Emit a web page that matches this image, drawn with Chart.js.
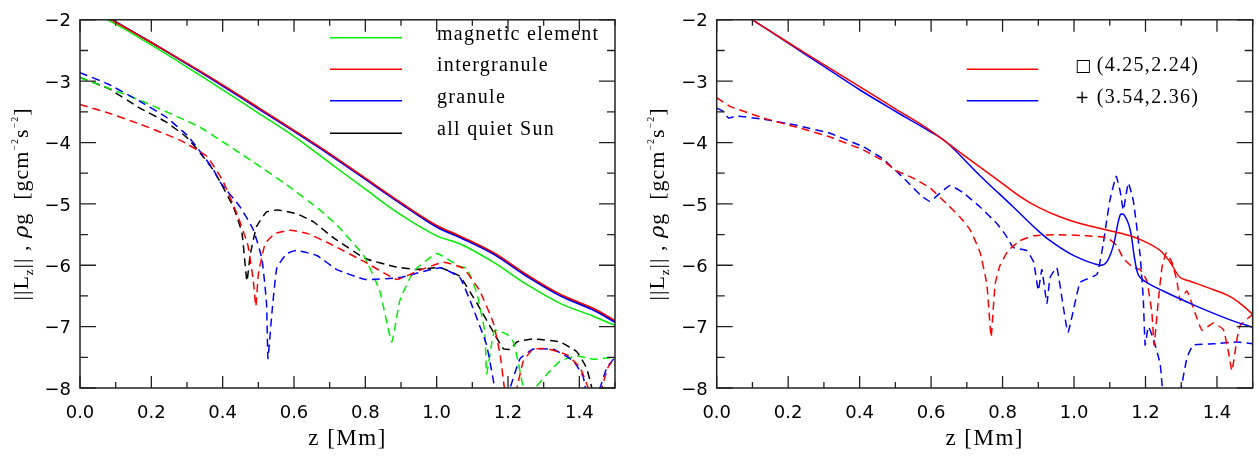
<!DOCTYPE html>
<html>
<head>
<meta charset="utf-8">
<script src="https://cdn.jsdelivr.net/npm/chart.js@4.4.0/dist/chart.umd.min.js"></script>
<style>
  html, body { margin: 0; padding: 0; background: #fff; }
  #wrap { position: relative; width: 1259px; height: 456px; }
  canvas { position: absolute; top: 0; }
  #left { left: 0; }
  #right { left: 630px; }
</style>
</head>
<body>
<div id="wrap">
  <canvas id="left" width="630" height="456"></canvas>
  <canvas id="right" width="629" height="456"></canvas>
</div>
<script>
// ---- axis ticks ----
const xTickVals = [0, 0.2, 0.4, 0.6, 0.8, 1.0, 1.2, 1.4];
const xMinorVals = [0.1, 0.3, 0.5, 0.7, 0.9, 1.1, 1.3, 1.5];
const yTickVals = [-8, -7, -6, -5, -4, -3, -2];
const yMinorVals = [-7.5, -6.5, -5.5, -4.5, -3.5, -2.5];

// ---- left panel: solid curves (||Lz||) ----
const zSolidL = [0, 0.1, 0.2, 0.3, 0.4, 0.5, 0.6, 0.7, 0.8, 0.9, 1.0, 1.065, 1.159, 1.252, 1.346, 1.439, 1.5];
const magSolid   = [-1.78, -2.07, -2.41, -2.77, -3.14, -3.52, -3.90, -4.33, -4.76, -5.18, -5.52, -5.65, -5.95, -6.31, -6.62, -6.83, -6.98];
const interSolid = [-1.72, -2.04, -2.37, -2.71, -3.06, -3.43, -3.80, -4.18, -4.58, -4.98, -5.35, -5.52, -5.79, -6.15, -6.47, -6.70, -6.90];
const granSolid  = [-1.69, -2.03, -2.37, -2.72, -3.08, -3.45, -3.82, -4.20, -4.60, -5.00, -5.38, -5.55, -5.82, -6.18, -6.50, -6.73, -6.93];
const quietSolid = [-1.70, -2.035, -2.37, -2.715, -3.07, -3.44, -3.81, -4.19, -4.59, -4.99, -5.37, -5.54, -5.81, -6.17, -6.49, -6.72, -6.92];

// ---- left panel: dashed curves (rho g) ----
const zMagDash = [0, 0.168, 0.336, 0.486, 0.58, 0.673, 0.724, 0.795, 0.84, 0.874, 0.897, 0.935, 1.0, 1.065, 1.085, 1.113, 1.135, 1.14, 1.155, 1.163, 1.196, 1.215, 1.228, 1.243, 1.26, 1.277, 1.31, 1.346, 1.393, 1.439, 1.5];
const magDash  = [-2.94, -3.31, -3.75, -4.32, -4.69, -5.10, -5.37, -5.84, -6.41, -7.25, -6.57, -6.10, -5.81, -6.02, -6.05, -6.46, -7.09, -7.77, -7.25, -7.06, -7.12, -7.25, -7.56, -8.0, -8.3, -8.0, -7.77, -7.56, -7.48, -7.53, -7.50];

const zInterDash = [0, 0.08, 0.168, 0.28, 0.355, 0.40, 0.44, 0.471, 0.486, 0.493, 0.5, 0.519, 0.547, 0.589, 0.636, 0.701, 0.80, 0.888, 0.944, 1.02, 1.075, 1.12, 1.159, 1.178, 1.19, 1.205, 1.225, 1.243, 1.27, 1.31, 1.365, 1.402, 1.425, 1.445, 1.463, 1.48, 1.5];
const interDash  = [-3.38, -3.52, -3.70, -3.96, -4.22, -4.62, -5.16, -5.68, -6.26, -6.67, -6.15, -5.65, -5.48, -5.43, -5.48, -5.65, -5.95, -6.23, -6.10, -5.95, -6.05, -6.41, -6.94, -7.46, -8.0, -8.4, -8.0, -7.56, -7.37, -7.36, -7.46, -7.67, -8.0, -8.4, -8.0, -7.67, -7.50];

const zGranDash = [0, 0.08, 0.168, 0.24, 0.30, 0.336, 0.374, 0.392, 0.449, 0.486, 0.51, 0.523, 0.527, 0.538, 0.552, 0.58, 0.607, 0.664, 0.72, 0.80, 0.897, 1.01, 1.065, 1.10, 1.14, 1.163, 1.185, 1.206, 1.234, 1.27, 1.327, 1.383, 1.411, 1.43, 1.458, 1.477, 1.5];
const granDash  = [-2.86, -3.05, -3.33, -3.58, -3.88, -4.14, -4.44, -4.64, -5.05, -5.42, -5.89, -6.62, -7.52, -6.78, -6.04, -5.81, -5.76, -5.84, -6.07, -6.23, -6.20, -6.04, -6.20, -6.67, -7.30, -8.0, -8.5, -8.0, -7.52, -7.37, -7.37, -7.56, -7.82, -8.4, -8.0, -7.67, -7.50];

const zQuietDash = [0, 0.08, 0.168, 0.24, 0.30, 0.336, 0.374, 0.392, 0.43, 0.454, 0.468, 0.477, 0.495, 0.523, 0.555, 0.607, 0.654, 0.71, 0.80, 0.88, 0.944, 1.01, 1.065, 1.113, 1.159, 1.187, 1.206, 1.225, 1.27, 1.346, 1.393, 1.42, 1.435, 1.45, 1.5];
const quietDash  = [-2.94, -3.12, -3.44, -3.66, -3.92, -4.16, -4.45, -4.63, -5.05, -5.47, -6.26, -5.84, -5.37, -5.13, -5.10, -5.16, -5.29, -5.55, -5.89, -6.02, -6.07, -6.04, -6.18, -6.62, -7.09, -7.36, -7.37, -7.25, -7.20, -7.25, -7.41, -7.67, -8.0, -8.4, -8.4];

// ---- right panel ----
const zSqSolid = [0, 0.1, 0.2, 0.3, 0.4, 0.5, 0.597, 0.69, 0.784, 0.849, 0.905, 0.96, 1.017, 1.11, 1.157, 1.204, 1.241, 1.269, 1.297, 1.325, 1.372, 1.437, 1.475, 1.5];
const sqSolid  = [-1.63, -2.0, -2.37, -2.73, -3.09, -3.45, -3.80, -4.20, -4.60, -4.88, -5.07, -5.21, -5.32, -5.45, -5.52, -5.63, -5.76, -5.95, -6.20, -6.26, -6.36, -6.51, -6.67, -6.80];

const zPlusSolid = [0, 0.1, 0.2, 0.3, 0.4, 0.5, 0.597, 0.644, 0.737, 0.83, 0.896, 0.933, 0.998, 1.073, 1.092, 1.11, 1.129, 1.14, 1.157, 1.171, 1.185, 1.25, 1.344, 1.437, 1.5];
const plusSolid  = [-1.63, -2.0, -2.38, -2.76, -3.14, -3.49, -3.82, -4.0, -4.54, -5.05, -5.42, -5.60, -5.84, -6.0, -5.94, -5.68, -5.18, -5.18, -5.42, -5.94, -6.20, -6.42, -6.67, -6.89, -7.01];

const zSqDash = [0, 0.037, 0.13, 0.224, 0.317, 0.41, 0.466, 0.503, 0.55, 0.597, 0.644, 0.68, 0.709, 0.737, 0.756, 0.768, 0.779, 0.793, 0.816, 0.849, 0.887, 0.95, 1.036, 1.092, 1.12, 1.138, 1.166, 1.185, 1.204, 1.218, 1.224, 1.236, 1.246, 1.258, 1.274, 1.288, 1.297, 1.316, 1.339, 1.358, 1.39, 1.418, 1.432, 1.442, 1.456, 1.465, 1.5];
const sqDash  = [-3.27, -3.41, -3.60, -3.75, -3.91, -4.12, -4.30, -4.46, -4.58, -4.74, -5.0, -5.21, -5.42, -5.79, -6.31, -7.17, -6.31, -6.0, -5.76, -5.60, -5.52, -5.50, -5.52, -5.55, -5.68, -5.89, -6.04, -6.07, -6.26, -6.78, -7.30, -6.57, -6.04, -5.80, -5.95, -6.26, -6.57, -6.42, -6.78, -7.06, -6.94, -7.05, -7.41, -7.72, -7.20, -6.98, -6.80];

const zPlusDash = [0, 0.018, 0.033, 0.056, 0.13, 0.224, 0.317, 0.41, 0.466, 0.532, 0.569, 0.597, 0.62, 0.653, 0.69, 0.737, 0.784, 0.81, 0.83, 0.868, 0.887, 0.9, 0.91, 0.924, 0.933, 0.952, 0.983, 1.017, 1.064, 1.082, 1.1, 1.118, 1.129, 1.138, 1.152, 1.166, 1.185, 1.194, 1.199, 1.208, 1.222, 1.241, 1.255, 1.285, 1.316, 1.334, 1.39, 1.456, 1.5];
const plusDash  = [-3.44, -3.49, -3.60, -3.57, -3.62, -3.72, -3.85, -4.07, -4.27, -4.63, -4.85, -4.96, -4.85, -4.70, -4.82, -5.05, -5.32, -5.52, -5.71, -5.76, -5.95, -6.41, -6.07, -6.62, -6.20, -6.04, -7.09, -6.28, -6.15, -5.64, -4.95, -4.55, -4.79, -5.10, -4.66, -4.95, -5.84, -6.57, -7.30, -7.00, -7.20, -7.61, -8.4, -8.4, -7.51, -7.30, -7.28, -7.25, -7.28];

const GREEN = '#00ee00', RED = '#ff0000', BLUE = '#0000ff', BLACK = '#000000';

function pts(zs, vs) { return zs.map((z, i) => ({ x: z, y: vs[i] })); }

function solid(label, color, zs, vs, row) {
  return { label: label, data: pts(zs, vs), borderColor: color, borderWidth: 1.5,
           pointRadius: 0, tension: 0.35, fill: false, legendRow: row };
}
function dashed(color, zs, vs) {
  return { label: '', data: pts(zs, vs), borderColor: color, borderWidth: 1.5, borderDash: [8, 5],
           pointRadius: 0, tension: 0.12, fill: false };
}

// draws the box with inward major / minor ticks on all four sides
const frameTicks = {
  id: 'frameTicks',
  afterDraw(chart) {
    const ctx = chart.ctx, a = chart.chartArea;
    const xs = chart.scales.x, ys = chart.scales.y;
    ctx.save();
    ctx.strokeStyle = '#222';
    ctx.lineWidth = 1.5;
    ctx.strokeRect(a.left, a.top, a.right - a.left, a.bottom - a.top);
    ctx.lineWidth = 1.3;
    ctx.beginPath();
    const xt = (v, len) => {
      const p = xs.getPixelForValue(v);
      ctx.moveTo(p, a.bottom); ctx.lineTo(p, a.bottom - len);
      ctx.moveTo(p, a.top); ctx.lineTo(p, a.top + len);
    };
    const yt = (v, len) => {
      const p = ys.getPixelForValue(v);
      ctx.moveTo(a.left, p); ctx.lineTo(a.left + len, p);
      ctx.moveTo(a.right, p); ctx.lineTo(a.right - len, p);
    };
    xTickVals.forEach(v => xt(v, 12));
    xMinorVals.forEach(v => xt(v, 6));
    yTickVals.forEach(v => yt(v, 16));
    yMinorVals.forEach(v => yt(v, 8));
    ctx.stroke();
    ctx.restore();
  }
};

// axis titles, the y one has sub- and superscripts
const axisTitles = {
  id: 'axisTitles',
  afterDraw(chart, args, opts) {
    const ctx = chart.ctx, a = chart.chartArea;
    ctx.save();
    ctx.fillStyle = '#000';
    ctx.font = '23px "Liberation Serif"';
    ctx.letterSpacing = '1.5px';
    ctx.textAlign = 'center';
    ctx.textBaseline = 'alphabetic';
    ctx.fillText('z [Mm]', (a.left + a.right) / 2, 445);

    const parts = [
      { t: '||L', f: '22px "Liberation Serif"', dy: 0 },
      { t: 'z', f: '13px "Liberation Serif"', dy: 5 },
      { t: '|| , ', f: '22px "Liberation Serif"', dy: 0 },
      { t: 'ρ', f: 'italic 21px "DejaVu Serif"', dy: 0 },
      { t: 'g  [gcm', f: '22px "Liberation Serif"', dy: 0 },
      { t: '−2', f: '10px "Liberation Serif"', dy: -10 },
      { t: 's', f: '22px "Liberation Serif"', dy: 0 },
      { t: '−2', f: '10px "Liberation Serif"', dy: -10 },
      { t: ']', f: '22px "Liberation Serif"', dy: 0 }
    ];
    ctx.letterSpacing = '1px';
    let total = 0;
    parts.forEach(p => { ctx.font = p.f; p.w = ctx.measureText(p.t).width; total += p.w; });
    ctx.translate(opts.yTitleX, (a.top + a.bottom) / 2);
    ctx.rotate(-Math.PI / 2);
    ctx.textAlign = 'left';
    let x = -total / 2;
    parts.forEach(p => { ctx.font = p.f; ctx.fillText(p.t, x, 8 + p.dy); x += p.w; });
    ctx.restore();
  }
};

// legend: short line sample and label for datasets that carry a legendRow
const lineLegend = {
  id: 'lineLegend',
  afterDraw(chart, args, opts) {
    const ctx = chart.ctx;
    ctx.save();
    chart.data.datasets.forEach(ds => {
      if (ds.legendRow === undefined) return;
      const y = opts.rows[ds.legendRow];
      ctx.strokeStyle = ds.borderColor;
      ctx.lineWidth = 1.5;
      ctx.beginPath();
      ctx.moveTo(opts.x0, y); ctx.lineTo(opts.x1, y);
      ctx.stroke();
      ctx.fillStyle = '#000';
      ctx.textBaseline = 'alphabetic';
      ctx.textAlign = 'left';
      if (ds.symbol) {
        ctx.font = '17px "DejaVu Sans"';
        ctx.letterSpacing = '0px';
        ctx.fillText(ds.symbol, opts.symX, y + 2);
      }
      ctx.font = '20px "Liberation Serif"';
      ctx.letterSpacing = '1.3px';
      ctx.fillText(ds.label, opts.textX, y + 2);
    });
    ctx.restore();
  }
};

function makeOptions(yWidth, padRight, yTitleX, legendOpts) {
  return {
    responsive: false,
    animation: false,
    layout: { padding: { top: 5, right: padRight, bottom: 0, left: 0 } },
    plugins: {
      legend: { display: false },
      tooltip: { enabled: false },
      axisTitles: { yTitleX: yTitleX },
      lineLegend: legendOpts
    },
    scales: {
      x: {
        type: 'linear', min: 0, max: 1.5,
        afterBuildTicks: s => { s.ticks = xTickVals.map(v => ({ value: v })); },
        afterFit: s => { s.height = 68; },
        grid: { display: false, drawTicks: false },
        border: { display: false },
        ticks: { padding: 15, color: '#000', maxRotation: 0, autoSkip: false,
                 font: { family: 'DejaVu Sans', size: 18 },
                 callback: v => v.toFixed(1) }
      },
      y: {
        type: 'linear', min: -8, max: -2,
        afterBuildTicks: s => { s.ticks = yTickVals.map(v => ({ value: v })); },
        afterFit: s => { s.width = yWidth; },
        grid: { display: false, drawTicks: false },
        border: { display: false },
        ticks: { padding: 9, color: '#000', labelOffset: 2,
                 font: { family: 'DejaVu Sans', size: 18 },
                 callback: v => (v < 0 ? '\u2212' : '') + Math.abs(v) }
      }
    }
  };
}

// lower dataset index is drawn on top
new Chart(document.getElementById('left'), {
  type: 'line',
  data: {
    datasets: [
      solid('intergranule', RED, zSolidL, interSolid, 1),
      solid('granule', BLUE, zSolidL, granSolid, 2),
      solid('all quiet Sun', BLACK, zSolidL, quietSolid, 3),
      solid('magnetic element', GREEN, zSolidL, magSolid, 0),
      dashed(RED, zInterDash, interDash),
      dashed(BLUE, zGranDash, granDash),
      dashed(GREEN, zMagDash, magDash),
      dashed(BLACK, zQuietDash, quietDash)
    ]
  },
  options: makeOptions(80, 15, 20, { rows: [37.7, 69.3, 100.7, 133.3], x0: 330, x1: 402, textX: 437, symX: 0 }),
  plugins: [frameTicks, axisTitles, lineLegend]
});

const sqSet = solid('(4.25,2.24)', RED, zSqSolid, sqSolid, 1);
sqSet.symbol = '\u25A1';
const plusSet = solid('(3.54,2.36)', BLUE, zPlusSolid, plusSolid, 2);
plusSet.symbol = '+';

new Chart(document.getElementById('right'), {
  type: 'line',
  data: {
    datasets: [
      sqSet,
      plusSet,
      dashed(RED, zSqDash, sqDash),
      dashed(BLUE, zPlusDash, plusDash)
    ]
  },
  options: makeOptions(86.7, 6.3, 26, { rows: [37.7, 69.3, 100.7, 133.3], x0: 336.7, x1: 408.3, textX: 466.7, symX: 445 }),
  plugins: [frameTicks, axisTitles, lineLegend]
});
</script>
</body>
</html>
